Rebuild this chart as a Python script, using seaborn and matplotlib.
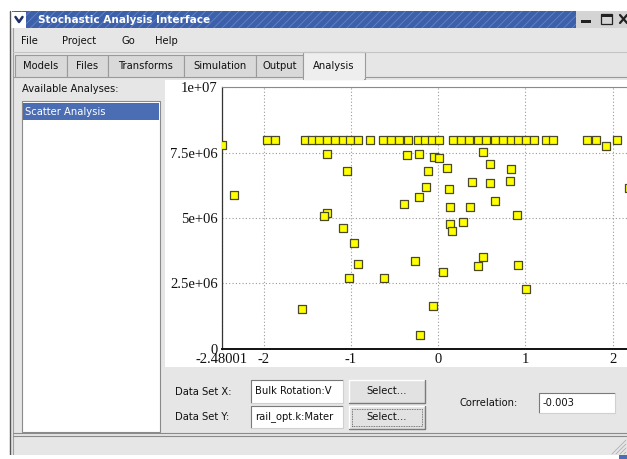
import matplotlib
matplotlib.use('Agg')
import matplotlib.pyplot as plt
from matplotlib.patches import Rectangle
from matplotlib.lines import Line2D
import seaborn as sns

# ====================== DATA ======================
# top row of points (all sit at 8e6)
top_x = [-1.96, -1.87, -1.53, -1.45, -1.37, -1.27, -1.18, -1.09, -1.01, -0.92,
         -0.78, -0.63, -0.54, -0.45, -0.35, -0.23, -0.15, -0.07, 0.01, 0.17,
         0.26, 0.35, 0.46, 0.55, 0.65, 0.74, 0.83, 0.92, 1.01, 1.10,
         1.24, 1.32, 1.71, 1.81, 2.05]
top_y = [8.0e6, 8.0e6, 8.0e6, 8.0e6, 8.0e6, 8.0e6, 8.0e6, 8.0e6, 8.0e6, 8.0e6,
         8.0e6, 8.0e6, 8.0e6, 8.0e6, 8.0e6, 8.0e6, 8.0e6, 8.0e6, 8.0e6, 8.0e6,
         8.0e6, 8.0e6, 8.0e6, 8.0e6, 8.0e6, 8.0e6, 8.0e6, 8.0e6, 8.0e6, 8.0e6,
         8.0e6, 8.0e6, 8.0e6, 8.0e6, 8.0e6]

# scattered points
cloud_x = [-2.48001, 1.93, 2.19, -2.345, -1.27, -1.05, -0.36, -0.22, -0.05, 0.006,
           -0.12, 0.105, -0.135, 0.12, -0.22, -0.39, 0.14, -1.27, -1.31, -1.09,
           -0.97, -0.92, -1.02, -0.62, -0.27, 0.055, -1.56, -0.055, -0.21, 0.135,
           0.154, 0.51, 0.59, 0.83, 0.39, 0.59, 0.82, 0.65, 0.37, 0.90,
           0.28, 0.51, 0.46, 0.91, 1.01]
cloud_y = [7.79e6, 7.74e6, 6.16e6, 5.89e6, 7.47e6, 6.81e6, 7.40e6, 7.44e6, 7.33e6, 7.29e6,
           6.81e6, 6.91e6, 6.20e6, 6.13e6, 5.79e6, 5.54e6, 5.41e6, 5.20e6, 5.09e6, 4.62e6,
           4.05e6, 3.25e6, 2.69e6, 2.69e6, 3.36e6, 2.94e6, 1.51e6, 1.64e6, 0.53e6, 4.79e6,
           4.51e6, 7.53e6, 7.06e6, 6.87e6, 6.37e6, 6.33e6, 6.43e6, 5.67e6, 5.44e6, 5.13e6,
           4.85e6, 3.52e6, 3.16e6, 3.19e6, 2.28e6]

x_tick_vals = [-2.48001, -2, -1, 0, 1, 2]
x_tick_labels = ['-2.48001', '-2', '-1', '0', '1', '2']
y_tick_vals = [0, 2.5e6, 5e6, 7.5e6, 1e7]
y_tick_labels = ['0', '2.5e+06', '5e+06', '7.5e+06', '1e+07']

menu_items = ['File', 'Project', 'Go', 'Help']
tab_names = ['Models', 'Files', 'Transforms', 'Simulation', 'Output', 'Analysis']

# ====================== STYLE ======================
sns.set_style('white')
plt.rcParams['font.family'] = ['DejaVu Sans']
plt.rcParams['hatch.linewidth'] = 0.6

W, H = 627, 459
fig = plt.figure(figsize=(W / 100, H / 100), dpi=100, facecolor='white')

GUI_GRAY = '#e6e6e6'
EDGE = '#9a9a9a'


def rect(x0, y0, x1, y1, fc, ec='none', lw=0.0, z=-10, **kw):
    # pixel box (top-left origin) -> figure fraction
    r = Rectangle((x0 / W, 1 - y1 / H), (x1 - x0) / W, (y1 - y0) / H,
                  transform=fig.transFigure, facecolor=fc, edgecolor=ec,
                  linewidth=lw, zorder=z, **kw)
    fig.add_artist(r)


def line(xs, ys, color, lw=0.8, z=-8, ls='-'):
    fig.add_artist(Line2D([x / W for x in xs], [1 - y / H for y in ys],
                          transform=fig.transFigure, color=color, lw=lw,
                          zorder=z, linestyle=ls))


def label(x, y, s, size=7.2, color='#111111', **kw):
    fig.text(x / W, 1 - y / H, s, va='center', fontsize=size, color=color, **kw)


def field(x0, y0, x1, y1, text):
    rect(x0, y0, x1, y1, 'white')
    line([x0, x0, x1], [y1, y0, y0], '#7a7a7a')
    line([x0, x1, x1], [y1, y1, y0], '#d0d0d0')
    label(x0 + 4, (y0 + y1) / 2, text)


def button(x0, y0, x1, y1, text, focus=False):
    rect(x0, y0, x1, y1, '#e2e2e2')
    line([x0, x0, x1], [y1, y0, y0], '#ffffff', lw=1.0)
    line([x0, x1, x1], [y1, y1, y0], '#7a7a7a', lw=1.0)
    if focus:
        rect(x0 + 3, y0 + 3, x1 - 3, y1 - 3, 'none', ec='#555555', lw=0.6,
             z=-7, linestyle=(0, (1, 1)))
    label((x0 + x1) / 2, (y0 + y1) / 2, text, ha='center')


# ====================== WINDOW FRAME ======================
rect(10, 28, 627, 455, GUI_GRAY, z=-20)
line([10, 10], [11, 455], '#555555', lw=1.0)
line([12.5, 12.5], [28, 455], '#a0a0a0', lw=0.8)

# title bar
rect(12, 11, 576, 28, '#3d60aa', ec='#6584c6', hatch='////')
rect(12, 12, 26, 28, 'white', z=-9)
line([15.5, 19, 22.5], [17, 22, 17], '#1d2f66', lw=1.8, z=-7)
label(38, 20, 'Stochastic Analysis Interface', size=7.6, color='white', weight='bold')
rect(576, 11, 627, 28, '#d4d4d4')
rect(581, 20, 591, 23, '#222222', z=-7)
rect(601, 14, 612, 24, 'none', ec='#222222', lw=0.9, z=-7)
rect(601, 14, 612, 16.5, '#222222', z=-7)
line([620, 627], [15, 23], '#222222', lw=1.6, z=-7)
line([620, 627], [23, 15], '#222222', lw=1.6, z=-7)

# menu bar
for name, mx in zip(menu_items, [21, 62, 121, 155]):
    label(mx, 41, name)
line([13, 627], [52, 52], '#c4c4c4')

# tabs
tab_edges = [15, 67, 108, 184, 256, 303, 365]
for i, name in enumerate(tab_names):
    x0, x1 = tab_edges[i], tab_edges[i + 1]
    if name == 'Analysis':
        rect(x0, 52, x1, 79, '#eeeeee', ec=EDGE, lw=0.8, z=-9)
        rect(x0 + 0.8, 76, x1 - 0.8, 80, '#eeeeee', z=-8)
        label((x0 + x1) / 2, 66, name, ha='center')
    else:
        rect(x0, 55, x1, 77, '#d9d9d9', ec=EDGE, lw=0.8)
        label((x0 + x1) / 2, 66, name, ha='center')
line([13, 15], [77, 77], EDGE)
line([365, 627], [77, 77], EDGE)

# left panel
label(22, 89, 'Available Analyses:')
rect(22, 101, 160, 432, 'white', ec='#8a8a8a', lw=0.8)
rect(23, 103, 159, 120, '#4a6db4', z=-9)
label(25, 112, 'Scatter Analysis', color='white')

# plot panel background
rect(165, 80, 627, 367, 'white', z=-15)

# ====================== SCATTER ======================
ax = fig.add_axes([222 / W, 1 - 348.8 / H, (627 - 222) / W, (348.8 - 87.4) / H])
ax.set_facecolor('white')
sns.scatterplot(x=top_x + cloud_x, y=top_y + cloud_y, ax=ax, marker='s', s=34,
                color='#ffff00', edgecolor='#4a4a2a', linewidth=0.9, zorder=3)
ax.set_xlim(-2.48001, 2.166)
ax.set_ylim(0, 1e7)
ax.set_xticks(x_tick_vals)
ax.set_xticklabels(x_tick_labels, fontfamily='Liberation Serif', fontsize=10.5)
ax.set_yticks(y_tick_vals)
ax.set_yticklabels(y_tick_labels, fontfamily='Liberation Serif', fontsize=10.5)
ax.tick_params(length=0, pad=3, colors='#111111')
ax.grid(True, color='#9a9a9a', linestyle=(0, (1, 2)), linewidth=0.8)
ax.set_axisbelow(True)
ax.spines['bottom'].set_color('#111111')
ax.spines['bottom'].set_linewidth(1.4)
ax.spines['left'].set_color('#333333')
ax.spines['left'].set_linewidth(0.9)
ax.spines['top'].set_color('#8a8a8a')
ax.spines['top'].set_linewidth(0.8)
ax.spines['right'].set_visible(False)
ax.set_xlabel('')
ax.set_ylabel('')

# ====================== CONTROLS ======================
label(175, 392, 'Data Set X:')
field(251, 380, 343, 403, 'Bulk Rotation:V')
button(349, 380, 425, 403, 'Select...')
label(175, 417, 'Data Set Y:')
field(251, 406, 343, 428, 'rail_opt.k:Mater')
button(349, 406, 425, 429, 'Select...', focus=True)
label(460, 403, 'Correlation:')
field(539, 393, 615, 413, '-0.003')

# status bar
line([13, 627], [433, 433], '#8a8a8a')
line([13, 627], [436, 436], '#8a8a8a')
for k in range(4):
    line([612 + 4 * k, 626], [454, 440 + 4 * k], '#b0b0b0', lw=0.6)
rect(0, 455, 627, 459, 'white', z=-5)
rect(619, 455, 627, 459, '#4a6db4', z=-4)

fig.savefig('out.png', dpi=100, facecolor='white')
